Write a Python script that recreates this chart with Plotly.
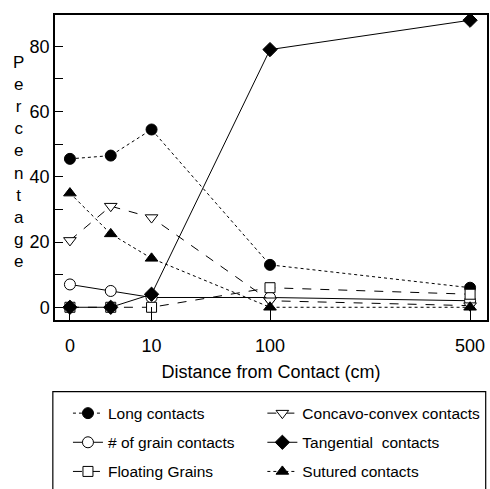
import numpy as np
import plotly.graph_objects as go

# ---- data ----
distance = [0, 5, 10, 100, 500]
long_contacts = [45.5, 46.5, 54.5, 13, 6]
grain_contacts = [7, 5, 3, 3, 2]
floating_grains = [0, 0, 0, 6, 4]
concavo_convex = [20.5, 31, 27.5, 2, 0.5]
tangential = [0, 0, 4, 79, 88]
sutured = [35, 22.5, 15, 0, 0]

x_tick_labels = ["0", "10", "100", "500"]
x_tick_dist = [0, 10, 100, 500]

# ---- piecewise-linear distance scale (as in the original figure) ----
SCALE_POS = [0, 82, 201, 402]


def xpos(d):
    return np.interp(d, x_tick_dist, SCALE_POS)


X = xpos(distance)
FONT = "Liberation Sans, Arial, Helvetica, sans-serif"

fig = go.Figure()


def add(name, y, symbol, dash, fill, size, legend):
    fig.add_trace(go.Scatter(
        x=X, y=y, name=name, mode="lines+markers",
        line=dict(color="black", width=1, dash=dash),
        marker=dict(symbol=symbol, size=size, color=fill,
                    line=dict(color="black", width=1)),
        legend=legend, legendgroup=name,
    ))


add("Long contacts", long_contacts, "circle", "dot", "black", 11, "legend")
add("# of grain contacts", grain_contacts, "circle", "solid", "white", 11, "legend")
add("Floating Grains", floating_grains, "square", "dash", "white", 10, "legend")
add("Concavo-convex contacts", concavo_convex, "triangle-down", "dash", "white", 11, "legend2")
add("Tangential  contacts", tangential, "diamond", "solid", "black", 11, "legend2")
add("Sutured contacts", sutured, "triangle-up", "dot", "black", 11, "legend2")

fig.update_layout(
    width=490, height=489,
    margin=dict(l=55, r=1, t=15, b=162),
    paper_bgcolor="white", plot_bgcolor="white",
    font=dict(family=FONT, color="black", size=18),
    showlegend=True,
    legend=dict(x=0.03, y=-0.251, xanchor="left", yanchor="top",
                bgcolor="rgba(0,0,0,0)", borderwidth=0,
                font=dict(size=15.5, family=FONT), tracegroupgap=6),
    legend2=dict(x=0.48, y=-0.251, xanchor="left", yanchor="top",
                 bgcolor="rgba(0,0,0,0)", borderwidth=0,
                 font=dict(size=15.5, family=FONT), tracegroupgap=6),
)

fig.update_xaxes(
    range=[-15, 419], tickmode="array",
    tickvals=list(xpos(x_tick_dist)), ticktext=x_tick_labels,
    ticks="inside", ticklen=13, tickcolor="black", tickwidth=1,
    ticklabelstandoff=9,
    showline=True, linecolor="black", linewidth=1.5, mirror=True,
    showgrid=False, zeroline=False,
    tickfont=dict(size=18),
    title=dict(text="Distance from Contact (cm)", font=dict(size=18), standoff=10),
)
fig.update_yaxes(
    range=[-3.9, 89.6], tickmode="linear", tick0=0, dtick=20,
    ticks="inside", ticklen=8, tickcolor="black", tickwidth=1,
    minor=dict(dtick=10, ticks="inside", ticklen=8, tickcolor="black"),
    showline=True, linecolor="black", linewidth=1.5, mirror=True,
    showgrid=False, zeroline=False,
    tickfont=dict(size=18),
)

# vertical stacked axis label
fig.add_annotation(
    text="<br>".join(list("Percentage")), xref="paper", yref="paper",
    x=-0.085, y=0.519, xanchor="center", yanchor="middle",
    showarrow=False, font=dict(size=17, family=FONT), align="center",
)

# legend frame
fig.add_shape(type="rect", xref="paper", yref="paper",
              x0=-0.005, x1=0.997, y0=-0.235, y1=-0.56,
              line=dict(color="black", width=1.2), fillcolor="rgba(0,0,0,0)",
              layer="below")

fig.write_html("out.html",
               config={"displayModeBar": False},
               post_script="document.body.style.margin='0';document.body.style.overflow='hidden';")
